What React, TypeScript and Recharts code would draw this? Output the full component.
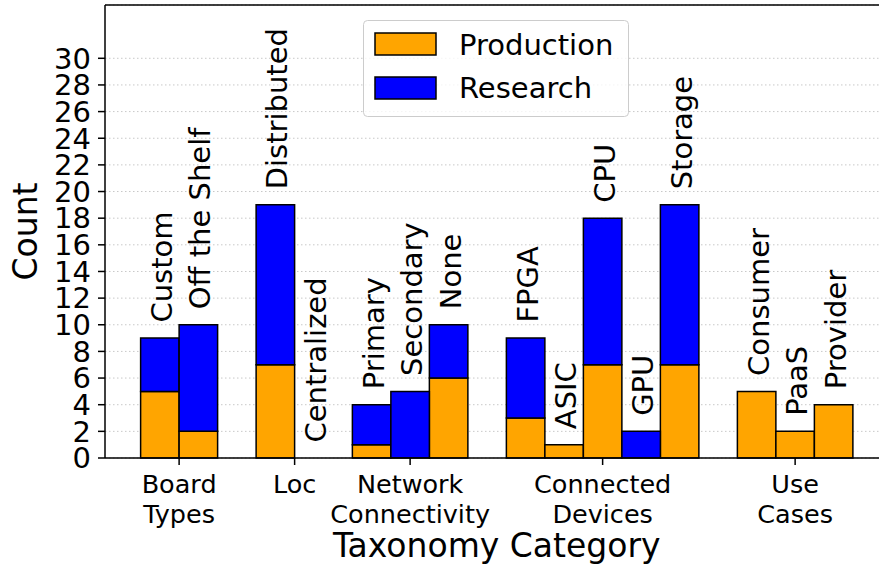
import React from "react"
import { ComposedChart, Bar, Line, XAxis, YAxis, CartesianGrid, Legend, LabelList, Label, ReferenceLine } from "recharts"

// bars, left to right
const CATEGORIES = [
  "Custom", "Off the Shelf",
  "Distributed", "Centralized",
  "Primary", "Secondary", "None",
  "FPGA", "ASIC", "CPU", "GPU", "Storage",
  "Consumer", "PaaS", "Provider",
]
const PRODUCTION = [5, 2, 7, 0, 1, 0, 6, 3, 1, 7, 0, 7, 5, 2, 4]
const RESEARCH = [4, 8, 12, 0, 3, 5, 4, 6, 0, 11, 2, 12, 0, 0, 0]

// taxonomy groups on the x axis
const GROUP_LABELS = [["Board", "Types"], ["Loc"], ["Network", "Connectivity"], ["Connected", "Devices"], ["Use", "Cases"]]
const GROUP_SIZES = [2, 2, 3, 5, 3]
const GROUP_CENTERS = [1, 4, 7, 12, 17]

const Y_TICKS = [0, 2, 4, 6, 8, 10, 12, 14, 16, 18, 20, 22, 24, 26, 28, 30]

const ORANGE = "#FFA500"
const BLUE = "#0000FF"
const FONT = "DejaVu Sans, sans-serif"

// bar centres: members of a group sit side by side around the group's tick
const positions: number[] = []
GROUP_SIZES.forEach((n, g) => {
  for (let i = 0; i < n; i++) positions.push(GROUP_CENTERS[g] + i - (n - 1) / 2)
})

const data = CATEGORIES.map((name, i) => ({
  name,
  x: positions[i],
  production: PRODUCTION[i],
  research: RESEARCH[i],
  total: PRODUCTION[i] + RESEARCH[i],
}))

function GroupTick({ x, y, payload }: any) {
  const idx = GROUP_CENTERS.indexOf(payload.value)
  const lines = idx >= 0 ? GROUP_LABELS[idx] : []
  return (
    <text x={x} y={y} textAnchor="middle" fontSize={25.5} fill="#000" fontFamily={FONT}>
      {lines.map((line, i) => (
        <tspan key={i} x={x} y={y + 28 + i * 30}>
          {line}
        </tspan>
      ))}
    </text>
  )
}

// category name written upwards from the top of each stack
function BarName({ x, y, value }: any) {
  const cx = x + 12
  const cy = y - 15.5
  return (
    <text x={cx} y={cy} transform={`rotate(-90, ${cx}, ${cy})`} fontSize={29} fill="#000" fontFamily={FONT}>
      {value}
    </text>
  )
}

function CountLabel() {
  return (
    <text x={37} y={231.5} transform="rotate(-90, 37, 231.5)" textAnchor="middle" fontSize={33} fill="#000" fontFamily={FONT}>
      Count
    </text>
  )
}

function CategoryLabel({ viewBox }: any) {
  const cx = 105 + 783.5 / 2
  return (
    <text x={cx} y={557} textAnchor="middle" fontSize={33} fill="#000" fontFamily={FONT}>
      Taxonomy Category
    </text>
  )
}

function LegendBox() {
  return (
    <svg width={266} height={97} style={{ display: "block" }}>
      <rect x={0.5} y={0.5} width={265} height={96} rx={4} fill="rgba(255,255,255,0.8)" stroke="#cccccc" />
      <rect x={12} y={13} width={61} height={22} fill={ORANGE} stroke="#000" strokeWidth={1.5} />
      <text x={96} y={35} fontSize={29} fill="#000" fontFamily={FONT}>Production</text>
      <rect x={12} y={57} width={61} height={22} fill={BLUE} stroke="#000" strokeWidth={1.5} />
      <text x={96} y={78} fontSize={29} fill="#000" fontFamily={FONT}>Research</text>
    </svg>
  )
}

export default function App() {
  return (
    <div style={{ position: "absolute", left: 0, top: 0, width: 879, height: 571, overflow: "hidden", background: "#fff" }}>
      <ComposedChart
        width={900}
        height={571}
        data={data}
        margin={{ top: 5, right: 11.5, left: 0, bottom: 0 }}
        style={{ fontFamily: FONT }}
      >
        <CartesianGrid vertical={false} stroke="#c8c8c8" strokeDasharray="1.5 2.5" />
        <XAxis
          type="number"
          dataKey="x"
          domain={[-0.925, 19.425]}
          ticks={GROUP_CENTERS}
          interval={0}
          height={113}
          tickSize={7}
          tickMargin={0}
          tick={<GroupTick />}
          axisLine={{ stroke: "#000", strokeWidth: 1.5 }}
          tickLine={{ stroke: "#000", strokeWidth: 1.5 }}
        >
          <Label content={<CategoryLabel />} />
        </XAxis>
        <YAxis
          type="number"
          domain={[0, 34]}
          ticks={Y_TICKS}
          interval={0}
          width={105}
          tickSize={7}
          tickMargin={7}
          tick={{ fill: "#000", fontSize: 29, fontFamily: FONT }}
          axisLine={{ stroke: "#000", strokeWidth: 1.5 }}
          tickLine={{ stroke: "#000", strokeWidth: 1.5 }}
        >
          <Label content={<CountLabel />} />
        </YAxis>
        <ReferenceLine y={34} stroke="#000" strokeWidth={1.5} />
        <Legend
          layout="vertical"
          align="center"
          verticalAlign="middle"
          content={<LegendBox />}
          wrapperStyle={{ position: "absolute", left: 363, top: 20, width: 266, height: 97 }}
        />
        <Bar dataKey="production" name="Production" stackId="a" fill={ORANGE} stroke="#000" strokeWidth={1.5} barSize={38.5} isAnimationActive={false} />
        <Bar dataKey="research" name="Research" stackId="a" fill={BLUE} stroke="#000" strokeWidth={1.5} barSize={38.5} isAnimationActive={false} />
        {/* invisible series at each stack's total, only carries the names */}
        <Line dataKey="total" stroke="none" dot={false} activeDot={false} legendType="none" isAnimationActive={false}>
          <LabelList dataKey="name" content={<BarName />} />
        </Line>
      </ComposedChart>
    </div>
  )
}
